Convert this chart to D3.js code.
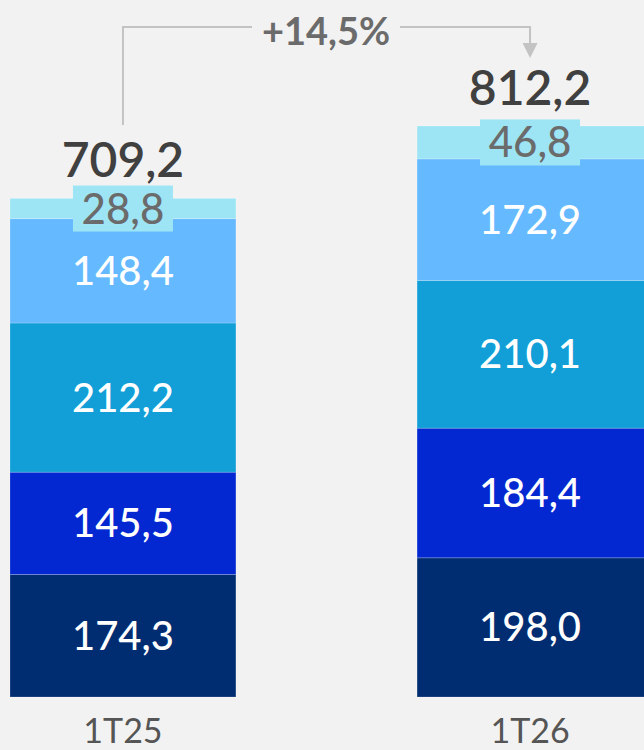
<!DOCTYPE html>
<html><head><meta charset="utf-8">
<script src="https://cdn.jsdelivr.net/npm/d3@7"></script>
<style>html,body{margin:0;padding:0;background:#f2f2f2;}svg{display:block;}</style>
</head><body>
<svg id="c" width="644" height="750"></svg>
<script>
const categories = ["1T25", "1T26"];
const seriesNames = ["s1", "s2", "s3", "s4", "s5"];
const s1 = [174.3, 198.0];
const s2 = [145.5, 184.4];
const s3 = [212.2, 210.1];
const s4 = [148.4, 172.9];
const s5 = [28.8, 46.8];
const totals = [709.2, 812.2];
const totalLabels = ["709,2", "812,2"];
const growthLabel = "+14,5%";
const colors = ["#002d72", "#0328d1", "#129fd8", "#65baff", "#9de5f5"];

const fmt = v => d3.format(".1f")(v).replace(".", ",");
const svg = d3.select("#c");
const font = "Lato, 'Open Sans', sans-serif";

const x = d3.scaleBand().domain(categories).range([10, 643]).paddingInner(0.445).paddingOuter(0);
const y = d3.scaleLinear().domain([0, 812.2]).range([697, 126]);

const rows = categories.map((c, i) => ({cat: c, s1: s1[i], s2: s2[i], s3: s3[i], s4: s4[i], s5: s5[i]}));
const stack = d3.stack().keys(seriesNames)(rows);

stack.forEach((layer, li) => {
  layer.forEach(d => {
    const cat = d.data.cat;
    svg.append("rect")
      .attr("x", x(cat)).attr("width", x.bandwidth() + (cat === categories[1] ? 2 : 0))
      .attr("y", y(d[1])).attr("height", y(d[0]) - y(d[1]))
      .attr("fill", colors[li])
      .attr("stroke", "rgba(255,255,255,0.25)").attr("stroke-width", 0.8);
  });
});

stack.forEach((layer, li) => {
  layer.forEach(d => {
    const cat = d.data.cat;
    const cx = x(cat) + x.bandwidth() / 2;
    const cy = (y(d[0]) + y(d[1])) / 2;
    const v = d[1] - d[0];
    if (li === 4) {
      svg.append("rect").attr("x", cx - 50).attr("y", cy - 23).attr("width", 100).attr("height", 46)
        .attr("fill", colors[4]);
      svg.append("text").attr("x", cx).attr("y", cy + 15).attr("text-anchor", "middle")
        .attr("font-family", font).attr("font-size", 42).attr("font-weight", 500)
        .attr("fill", "#6b6b6b").text(fmt(v));
    } else {
      svg.append("text").attr("x", cx).attr("y", cy + 14).attr("text-anchor", "middle")
        .attr("font-family", font).attr("font-size", 40).attr("font-weight", 500)
        .attr("fill", "#ffffff").text(fmt(v));
    }
  });
});

categories.forEach((c, i) => {
  const cx = x(c) + x.bandwidth() / 2;
  svg.append("text").attr("x", cx).attr("y", y(totals[i]) - 21).attr("text-anchor", "middle")
    .attr("font-family", font).attr("font-size", 48).attr("font-weight", 600)
    .attr("fill", "#404040").text(totalLabels[i]);
  svg.append("text").attr("x", cx).attr("y", 743).attr("text-anchor", "middle")
    .attr("font-family", font).attr("font-size", 34).attr("font-weight", 400)
    .attr("fill", "#555555").text(c);
});

// growth arrow
const x0 = x(categories[0]) + x.bandwidth() / 2;
const x1 = x(categories[1]) + x.bandwidth() / 2;
const ly = 27;
const lineColor = "#c3c3c3";
svg.append("path").attr("d", `M${x0},125 V${ly} H252`).attr("fill", "none").attr("stroke", lineColor).attr("stroke-width", 2);
svg.append("path").attr("d", `M400,${ly} H${x1} V44`).attr("fill", "none").attr("stroke", lineColor).attr("stroke-width", 2);
svg.append("path").attr("d", `M${x1 - 7.5},43 L${x1 + 7.5},43 L${x1},58 Z`).attr("fill", lineColor);
svg.append("text").attr("x", (252 + 400) / 2).attr("y", 45).attr("text-anchor", "middle")
  .attr("font-family", font).attr("font-size", 38).attr("font-weight", 700)
  .attr("fill", "#6b6b6b").text(growthLabel);
</script>
</body></html>
